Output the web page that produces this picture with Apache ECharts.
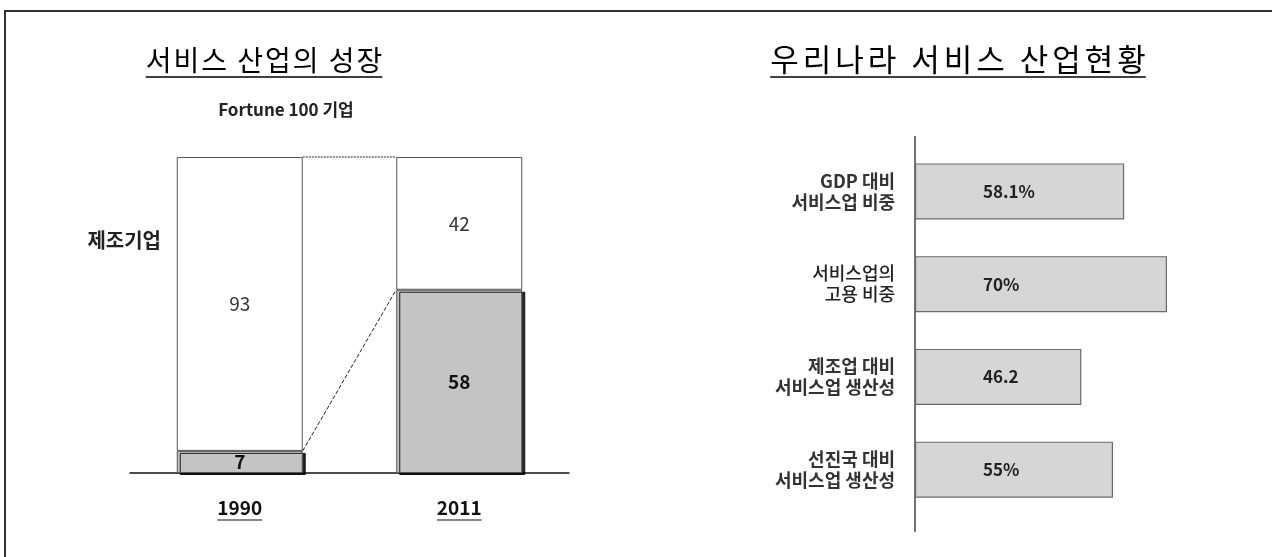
<!DOCTYPE html>
<html><head><meta charset="utf-8">
<script src="https://cdn.jsdelivr.net/npm/echarts@6/dist/echarts.min.js"></script>
<style>html,body{margin:0;padding:0;background:#fff}#c{width:1272px;height:557px}</style>
</head><body><div id="c"></div>
<script>
// ---- data ----
const leftTitle = '서비스 산업의 성장';
const rightTitle = '우리나라 서비스 산업현황';
const leftSubtitle = 'Fortune 100 기업';
const years = ['1990', '2011'];
const serviceCounts = [7, 58];
const manufacturingCounts = [93, 42];
const manufacturingLabel = '제조기업';
const indicatorNames = ['GDP 대비\n서비스업 비중', '서비스업의\n고용 비중', '제조업 대비\n서비스업 생산성', '선진국 대비\n서비스업 생산성'];
const indicatorValues = [58.1, 70, 46.2, 55];
const indicatorLabels = ['58.1%', '70%', '46.2', '55%'];

// ---- styling ----
const FONT = '"Noto Sans CJK KR", "Noto Sans", sans-serif';
const LEFT_BAR_W = 126;
const ctx = document.createElement('canvas').getContext('2d');
function tw(str, font) { ctx.font = font; return ctx.measureText(str).width; }

const totals = serviceCounts.map((v, i) => v + manufacturingCounts[i]);
const connectors = [[0, totals[0], 1, totals[1], 0], [0, serviceCounts[0], 1, serviceCounts[1], 1]];

// Title drawn glyph by glyph so that the letter spacing matches the reference, then underlined.
function titleGroup(text, cx, cy, size, spacing, ulY) {
  const font = 'normal ' + size + 'px ' + FONT;
  const chars = Array.from(text);
  const widths = chars.map(c => tw(c, font));
  const w = widths.reduce((a, b) => a + b, 0) + spacing * (chars.length - 1);
  const out = [];
  let x = cx - w / 2;
  chars.forEach((c, i) => {
    if (c !== ' ') out.push({ type: 'text', x: x, y: cy, style: { text: c, font: font, fill: '#000', align: 'left', verticalAlign: 'middle' } });
    x += widths[i] + spacing;
  });
  out.push({ type: 'line', shape: { x1: cx - w / 2, y1: ulY, x2: cx + w / 2, y2: ulY }, style: { stroke: '#000', lineWidth: 1.5 } });
  return out;
}

const chart = echarts.init(document.getElementById('c'), null, { renderer: 'canvas' });
const option = {
  animation: false,
  backgroundColor: '#fff',
  textStyle: { fontFamily: FONT },
  graphic: [
    { type: 'polyline', shape: { points: [[5, 557], [5, 11], [1272, 11]] }, style: { stroke: '#333', lineWidth: 2, fill: null } },
    ...titleGroup(leftTitle, 264, 60, 28, 2, 77),
    ...titleGroup(rightTitle, 958, 59, 31, 4, 77),
    { type: 'text', x: 286, y: 110, style: { text: leftSubtitle, font: 'bold 17px ' + FONT, fill: '#222', align: 'center', verticalAlign: 'middle' } },
    { type: 'text', x: 161, y: 240, style: { text: manufacturingLabel, font: 'bold 20px ' + FONT, fill: '#222', align: 'right', verticalAlign: 'middle' } },
    { type: 'line', shape: { x1: 915, y1: 136, x2: 915, y2: 532 }, style: { stroke: '#444', lineWidth: 1.5 } }
  ],
  grid: [
    { left: 130, width: 439, top: 157, height: 316 },
    { left: 915, width: 288, top: 145, height: 371 }
  ],
  xAxis: [
    { gridIndex: 0, type: 'category', data: years, axisLine: { lineStyle: { color: '#111', width: 1.5 } }, axisTick: { show: false }, axisLabel: { show: false } },
    { gridIndex: 1, type: 'value', min: 0, max: 80, show: false }
  ],
  yAxis: [
    { gridIndex: 0, type: 'value', min: 0, max: 100, show: false },
    { gridIndex: 1, type: 'category', inverse: true, data: indicatorNames, axisLine: { show: false }, axisTick: { show: false },
      axisLabel: { margin: 20, fontSize: 18, fontWeight: 'bold', color: '#333', lineHeight: 21, align: 'right',
        formatter: (v, i) => i === 1 ? '{n|' + v.split('\n').join('}\n{n|') + '}' : v,
        rich: { n: { fontSize: 18, fontWeight: 500, color: '#222', lineHeight: 21 } } } }
  ],
  series: [
    { type: 'bar', xAxisIndex: 0, yAxisIndex: 0, stack: 'f', barWidth: LEFT_BAR_W, data: serviceCounts,
      itemStyle: { color: '#c4c4c4', borderColor: '#555', borderWidth: 1, shadowColor: 'rgba(0,0,0,0.85)', shadowOffsetX: 3, shadowOffsetY: 2, shadowBlur: 0 },
      label: { show: true, position: 'inside', fontSize: 19, fontWeight: 'bold', color: '#111' } },
    { type: 'bar', xAxisIndex: 0, yAxisIndex: 0, stack: 'f', barWidth: LEFT_BAR_W, data: manufacturingCounts,
      itemStyle: { color: '#fff', borderColor: '#555', borderWidth: 1 },
      label: { show: true, position: 'inside', fontSize: 19, color: '#333' } },
    { type: 'custom', xAxisIndex: 0, yAxisIndex: 0, data: connectors, encode: { x: [0, 2], y: [1, 3] }, z: 5,
      renderItem: (params, api) => {
        const p0 = api.coord([api.value(0), api.value(1)]);
        const p1 = api.coord([api.value(2), api.value(3)]);
        const dotted = api.value(4) === 0;
        return { type: 'line', shape: { x1: p0[0] + LEFT_BAR_W / 2, y1: p0[1], x2: p1[0] - LEFT_BAR_W / 2, y2: p1[1] },
          style: { stroke: '#222', lineWidth: 1, lineDash: dotted ? [2, 1] : [4, 2] } };
      } },
    { type: 'custom', xAxisIndex: 0, yAxisIndex: 0, data: years.map((y, i) => [i, 0, y]), z: 5,
      renderItem: (params, api) => {
        const p = api.coord([api.value(0), 0]);
        const txt = years[params.dataIndex];
        const font = 'bold 19px ' + FONT;
        const w = tw(txt, font);
        return { type: 'group', children: [
          { type: 'text', style: { x: p[0], y: p[1] + 35, text: txt, font: font, fill: '#111', align: 'center', verticalAlign: 'middle' } },
          { type: 'line', shape: { x1: p[0] - w / 2, y1: p[1] + 47, x2: p[0] + w / 2, y2: p[1] + 47 }, style: { stroke: '#111', lineWidth: 1.2 } }
        ] };
      } },
    { type: 'bar', xAxisIndex: 1, yAxisIndex: 1, barWidth: 56, data: indicatorValues,
      itemStyle: { color: '#d6d6d6', borderColor: '#6a6a6a', borderWidth: 1.2 },
      label: { show: true, position: 'insideLeft', offset: [63, 0], fontSize: 17, fontWeight: 'bold', color: '#222',
        formatter: p => indicatorLabels[p.dataIndex] } }
  ]
};
chart.setOption(option);
</script>
</body></html>
